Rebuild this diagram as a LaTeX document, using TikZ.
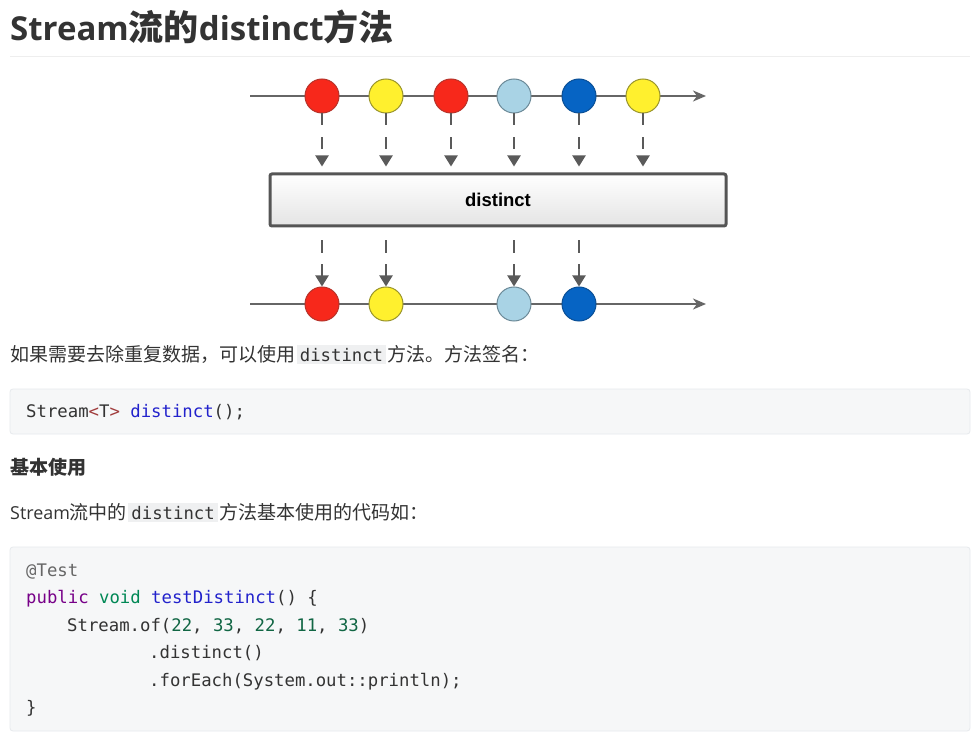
\documentclass[tikz,border=0pt]{standalone}
\usepackage{fontspec}
\setmainfont{Open Sans}
\setmonofont{DejaVu Sans Mono}
\newfontfamily\cjk{Noto Sans CJK SC}[Scale=1.062]
\newfontfamily\arial{Liberation Sans}
\usetikzlibrary{arrows.meta}
\newcommand\zh[1]{{\cjk #1}}
\newcommand\icode[1]{\hspace{1.5pt}{\setlength\fboxsep{3pt}\colorbox{inlinebg}{\ttfamily\fontsize{17.3}{19}\selectfont #1}}\hspace{1.5pt}}
\definecolor{txt}{HTML}{333333}
\definecolor{rule}{HTML}{EEEEEE}
\definecolor{linegray}{HTML}{666666}
\definecolor{dropgray}{HTML}{5A5A5A}
\definecolor{boxdraw}{HTML}{555555}
\definecolor{boxbot}{HTML}{E4E4E4}
\definecolor{redf}{HTML}{F7281B}\definecolor{redd}{HTML}{B8332A}
\definecolor{yelf}{HTML}{FFF02E}\definecolor{yeld}{HTML}{9A952C}
\definecolor{lbf}{HTML}{A9D3E5}\definecolor{lbd}{HTML}{6C8A98}
\definecolor{blf}{HTML}{0664C4}\definecolor{bld}{HTML}{0A4F96}
\definecolor{codebg}{HTML}{F6F7F8}
\definecolor{codebd}{HTML}{E7EAED}
\definecolor{inlinebg}{HTML}{EFF0F1}
\definecolor{kwpurple}{HTML}{770088}
\definecolor{kwgreen}{HTML}{008855}
\definecolor{defblue}{HTML}{2222CC}
\definecolor{numgreen}{HTML}{116644}
\definecolor{meta}{HTML}{666666}
\definecolor{angle}{HTML}{A03C3C}
\tikzset{
  ball/.style={circle, minimum size=34pt, inner sep=0pt, line width=1pt},
  redball/.style={ball, fill=redf, draw=redd},
  yelball/.style={ball, fill=yelf, draw=yeld},
  lbball/.style={ball, fill=lbf, draw=lbd},
  blball/.style={ball, fill=blf, draw=bld},
  flow/.style={draw=linegray, line width=2pt, -{Stealth[length=13pt,width=11pt,inset=4pt]}},
  drop/.style={draw=dropgray, line width=2pt, dash pattern=on 12pt off 12pt, -{Triangle[length=11pt,width=13pt]}},
  txtnode/.style={anchor=base west, inner sep=0pt, text=txt},
  codeline/.style={anchor=base west, inner sep=0pt, text=txt, font=\ttfamily\fontsize{17.3}{19}\selectfont},
  codeblock/.style={fill=codebg, draw=codebd, line width=0.8pt, rounded corners=3pt}
}
\begin{document}
\begin{tikzpicture}[x=1pt,y=-1pt]
\useasboundingbox[fill=white] (0,0) rectangle (978,738);
% title
\node[txtnode] (title) at (10,41) {\fontsize{33}{37}\selectfont\bfseries Stream{\cjk\bfseries 流的}distinct{\cjk\bfseries 方法}};
\draw[rule, line width=1pt] (10,57) coordinate (rl) -- (970,57) coordinate (rr);
% top stream
\coordinate (ts) at (250,96);
\coordinate (te) at (706,96);
\draw[flow] (ts) -- (te);
\node[redball] (t1) at (322,96) {};
\node[yelball] (t2) at (386,96) {};
\node[redball] (t3) at (451,96) {};
\node[lbball]  (t4) at (514,96) {};
\node[blball]  (t5) at (579,96) {};
\node[yelball] (t6) at (643,96) {};
% operator box
\node[draw=boxdraw, line width=3pt, rounded corners=2pt, top color=white, bottom color=boxbot,
      minimum width=456pt, minimum height=52pt, inner sep=0pt] (box) at (498,200)
      {\arial\bfseries\fontsize{18.5}{20}\selectfont distinct};
\foreach \i in {1,...,6}{
  \draw[drop, shorten >=6pt] (t\i.south) -- (t\i.south |- box.north);
}
% bottom stream
\coordinate (bs) at (250,304);
\coordinate (be) at (706,304);
\draw[flow] (bs) -- (be);
\node[redball] (b1) at (322,304) {};
\node[yelball] (b2) at (386,304) {};
\node[lbball]  (b3) at (514,304) {};
\node[blball]  (b4) at (579,304) {};
\foreach \i in {1,...,4}{
  \draw[drop, dash pattern=on 13pt off 11pt, shorten <=13pt] (b\i.north |- box.south) -- (b\i.north);
}
% paragraph 1
\node[txtnode] (p1) at (10,361) {\fontsize{17.9}{20}\selectfont\zh{如果需要去除重复数据，可以使用}\icode{distinct}\zh{方法。方法签名：}};
% code block 1
\draw[codeblock] (10,389) rectangle (970,434);
\node[codeline] (c0) at (26,417) {Stream\textcolor{angle}{<}T\textcolor{angle}{>} \textcolor{defblue}{distinct}();};
% heading
\node[txtnode] (h1) at (10,474) {\fontsize{17.9}{20}\selectfont{\cjk\bfseries 基本使用}};
% paragraph 2
\node[txtnode] (p2) at (10,519) {\fontsize{17.9}{20}\selectfont Stream\zh{流中的}\icode{distinct}\zh{方法基本使用的代码如：}};
% code block 2
\draw[codeblock] (10,547) rectangle (970,731);
\node[codeline] (c1) at (26,576) {\textcolor{meta}{@Test}};
\node[codeline] (c2) at (26,603.5) {\textcolor{kwpurple}{public} \textcolor{kwgreen}{void} \textcolor{defblue}{testDistinct}() \{};
\node[codeline] (c3) at (67,631) {Stream.of(\textcolor{numgreen}{22}, \textcolor{numgreen}{33}, \textcolor{numgreen}{22}, \textcolor{numgreen}{11}, \textcolor{numgreen}{33})};
\node[codeline] (c4) at (149,658.5) {.distinct()};
\node[codeline] (c5) at (149,686) {.forEach(System.out::println);};
\node[codeline] (c6) at (26,713.5) {\}};
\end{tikzpicture}
\end{document}
